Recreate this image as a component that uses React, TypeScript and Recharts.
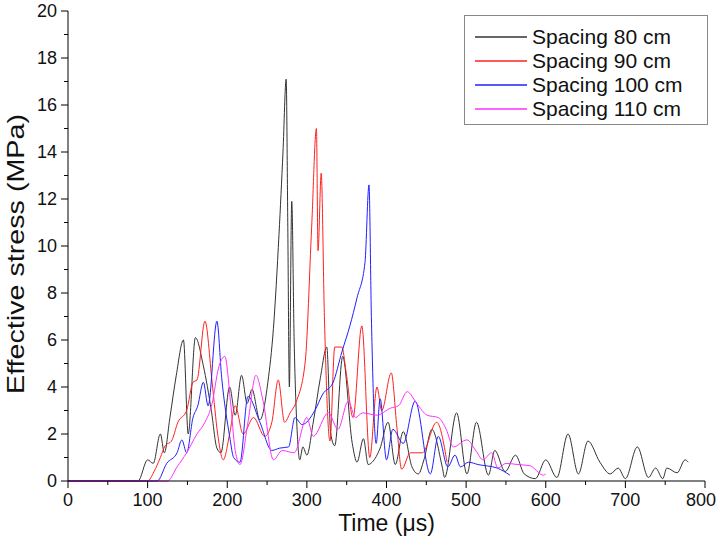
import { LineChart, Line, XAxis, YAxis } from "recharts"

// time (µs), effective stress (MPa)
const spacing80: [number, number][] = [
  [0, 0], [88, 0], [100, 0.9], [107, 0.75], [116, 2.0], [121, 1.2], [128, 2.7], [136, 4.5],
  [145, 6.0], [151, 2.0], [160, 6.1], [170, 4.9], [180, 3.0], [187, 1.4], [192, 1.2], [203, 4.0],
  [210, 2.8], [218, 4.5], [225, 3.3], [231, 3.9], [241, 2.6], [251, 4.2], [258, 6.5], [265, 10.5],
  [270, 14], [274, 17.1], [276, 11], [278, 4.0], [281, 11.9], [284, 6], [288, 2.0], [291, 0.9],
  [295, 1.45], [300, 1.1], [308, 2.5], [317, 4.4], [325, 5.7], [330, 2.0], [335, 1.5], [345, 5.3],
  [357, 1.6], [363, 0.8], [371, 1.8], [377, 0.7], [382, 0.8], [392, 1.4], [402, 2.5], [411, 0.7],
  [421, 2.1], [432, 0.6], [440, 0.3], [447, 0.9], [457, 2.2], [470, 0.6], [473, 0.15], [488, 2.9],
  [501, 0.3], [513, 2.5], [528, 0.25], [536, 1.3], [549, 0.4], [562, 1.1], [573, 0.3], [587, 0.1],
  [600, 0.9], [614, 0.15], [628, 2.0], [641, 0.3], [653, 1.7], [668, 0.8], [681, 0.3], [691, 0.55],
  [700, 0.1], [715, 1.45], [729, 0.15], [738, 0.55], [747, 0.1], [752, 0.55], [765, 0.35], [775, 0.9],
  [779, 0.8],
]

const spacing90: [number, number][] = [
  [0, 0], [100, 0], [108, 0.4], [116, 1.0], [122, 1.5], [130, 1.7], [138, 2.5], [149, 3.0],
  [157, 4.2], [162, 4.3], [172, 6.8], [181, 4.2], [188, 2.0], [195, 0.9], [203, 2.0], [210, 3.2],
  [220, 2.0], [233, 2.7], [247, 1.9], [256, 2.5], [264, 4.3], [272, 2.5], [279, 2.9], [287, 3.4],
  [298, 5.1], [306, 10.8], [312, 15.0], [314, 9.8], [318, 13.1], [322, 7], [329, 1.7], [335, 5.7],
  [344, 5.7], [349, 4.7], [358, 2.7], [369, 6.6], [379, 1.0], [388, 4.0], [394, 3.0], [406, 4.6],
  [413, 2.3], [419, 0.5], [430, 1.2], [445, 1.2], [463, 2.5], [476, 0.8],
]

const spacing100: [number, number][] = [
  [0, 0], [112, 0], [124, 0.75], [137, 1.2], [143, 1.75], [149, 1.2], [157, 2.7], [163, 3.2],
  [170, 4.2], [176, 3.2], [187, 6.8], [193, 4.4], [203, 1.9], [208, 1.0], [216, 0.8], [226, 3.6],
  [241, 2.5], [256, 1.3], [266, 1.4], [277, 1.45], [285, 2.7], [294, 2.4], [310, 3.0], [320, 3.7],
  [333, 4.2], [344, 5.5], [354, 6.6], [363, 7.8], [373, 9.3], [378, 12.6], [381, 7], [387, 1.6],
  [392, 3.5], [400, 0.9], [408, 2.2], [421, 1.6], [436, 3.4], [455, 0.3], [465, 1.9], [477, 0.6],
  [486, 1.1], [493, 0.6], [503, 0.8], [515, 0.7], [539, 0.55], [555, 0.25],
]

const spacing110: [number, number][] = [
  [0, 0], [125, 0], [137, 0.6], [149, 1.2], [162, 2.0], [172, 2.5], [181, 3.3], [189, 4.8],
  [197, 5.3], [204, 3.4], [210, 1.3], [216, 0.7], [226, 2.5], [236, 4.5], [245, 3.4], [258, 0.9],
  [269, 1.3], [284, 1.2], [300, 2.7], [308, 1.9], [327, 2.9], [339, 2.2], [352, 3.4], [361, 2.7],
  [370, 2.9], [388, 2.8], [405, 3.1], [415, 3.2], [426, 3.8], [438, 3.3], [451, 2.8], [465, 2.7],
  [475, 2.2], [484, 1.45], [501, 1.75], [513, 1.25], [521, 0.9], [532, 1.2], [540, 0.55], [550, 0.75],
  [565, 0.7], [580, 0.65], [597, 0.25], [600, 0.3],
]

const xTicks = Array.from({ length: 17 }, (_, i) => i * 50)
const yTicks = Array.from({ length: 21 }, (_, i) => i)

const series = [
  { name: "Spacing 80 cm", color: "#333333", points: spacing80 },
  { name: "Spacing 90 cm", color: "#ff2020", points: spacing90 },
  { name: "Spacing 100 cm", color: "#2020ff", points: spacing100 },
  { name: "Spacing 110 cm", color: "#ff30ff", points: spacing110 },
]

const font = "'Liberation Sans', Arial, sans-serif"

const XTick = (props: any) => {
  const { x, y, payload } = props
  const major = payload.value % 100 === 0
  // last label sits right at the page edge
  const dx = payload.value === 800 ? -4 : 0
  return (
    <g>
      <line x1={x} x2={x} y1={y} y2={y + (major ? 7 : 4)} stroke="#000" />
      {major && (
        <text x={x + dx} y={y + 25} textAnchor="middle" fontSize={18} fontFamily={font} fill="#111">
          {payload.value}
        </text>
      )}
    </g>
  )
}

const YTick = (props: any) => {
  const { x, y, payload } = props
  const major = payload.value % 2 === 0
  return (
    <g>
      <line x1={x - (major ? 7 : 4)} x2={x} y1={y} y2={y} stroke="#000" />
      {major && (
        <text x={x - 11} y={y + 6} textAnchor="end" fontSize={18} fontFamily={font} fill="#111">
          {payload.value}
        </text>
      )}
    </g>
  )
}

const YLabel = () => {
  const cx = 15
  const cy = 254
  return (
    <text
      x={cx}
      y={cy}
      transform={`rotate(-90 ${cx} ${cy})`}
      textAnchor="middle"
      dominantBaseline="central"
      fontSize={24}
      fontFamily={font}
      fill="#111"
      textLength={280}
      lengthAdjust="spacingAndGlyphs"
    >
      Effective stress (MPa)
    </text>
  )
}

const XLabel = (props: any) => {
  const { viewBox } = props
  return (
    <text
      x={viewBox.x + viewBox.width / 2}
      y={531}
      textAnchor="middle"
      fontSize={23}
      fontFamily={font}
      fill="#111"
    >
      Time (μs)
    </text>
  )
}

export default function App() {
  return (
    <div style={{ position: "absolute", left: 0, top: 0, width: 718, height: 548, background: "#fff" }}>
      <LineChart width={718} height={548} margin={{ top: 11, right: 13, bottom: 0, left: 0 }}>
        <XAxis
          type="number"
          dataKey="t"
          domain={[0, 800]}
          ticks={xTicks}
          interval={0}
          tickSize={0}
          tickMargin={0}
          tick={<XTick />}
          height={67}
          stroke="#000"
          allowDuplicatedCategory={false}
          label={<XLabel />}
        />
        <YAxis
          type="number"
          domain={[0, 20]}
          ticks={yTicks}
          interval={0}
          tickSize={0}
          tickMargin={0}
          tick={<YTick />}
          width={68}
          stroke="#000"
          label={<YLabel />}
        />
        {series.map((s) => (
          <Line
            key={s.name}
            data={s.points.map(([t, v]) => ({ t, v }))}
            dataKey="v"
            type="monotone"
            stroke={s.color}
            strokeWidth={1}
            dot={false}
            isAnimationActive={false}
          />
        ))}
      </LineChart>
      <div
        style={{
          position: "absolute",
          left: 464,
          top: 15,
          width: 244,
          height: 110,
          border: "1px solid #888",
          background: "#fff",
          fontFamily: font,
          fontSize: 21,
          color: "#111",
          boxSizing: "border-box",
          paddingTop: 9,
        }}
      >
        {series.map((s) => (
          <div key={s.name} style={{ display: "flex", alignItems: "center", height: 24 }}>
            <svg width={67} height={24} style={{ flex: "none" }}>
              <line x1={10} x2={62} y1={12} y2={12} stroke={s.color} strokeWidth={1.3} />
            </svg>
            <span>{s.name}</span>
          </div>
        ))}
      </div>
    </div>
  )
}
